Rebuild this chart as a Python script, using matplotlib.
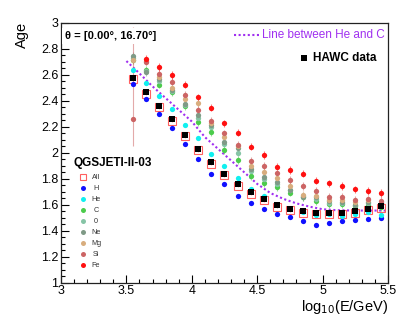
import numpy as np
import matplotlib
matplotlib.use("Agg")
import matplotlib.pyplot as plt
from matplotlib.colors import to_rgba

plt.rcParams['font.family'] = ['Liberation Sans', 'DejaVu Sans']

# ---- data ----
log_e = [3.55, 3.65, 3.75, 3.85, 3.95, 4.05, 4.15, 4.25, 4.35, 4.45,
         4.55, 4.65, 4.75, 4.85, 4.95, 5.05, 5.15, 5.25, 5.35, 5.45]

age_all = [2.565, 2.455, 2.350, 2.245, 2.128, 2.018, 1.915, 1.825, 1.747, 1.685,
           1.635, 1.585, 1.558, 1.540, 1.530, 1.530, 1.527, 1.540, 1.557, 1.578]
age_h = [2.526, 2.416, 2.300, 2.192, 2.065, 1.949, 1.836, 1.757, 1.669, 1.610,
         1.565, 1.526, 1.506, 1.478, 1.444, 1.457, 1.472, 1.482, 1.488, 1.495]
age_he = [2.640, 2.540, 2.434, 2.336, 2.213, 2.115, 1.990, 1.895, 1.808, 1.721,
          1.667, 1.600, 1.565, 1.545, 1.521, 1.530, 1.513, 1.526, 1.546, 1.524]
age_c = [2.710, 2.636, 2.523, 2.465, 2.357, 2.236, 2.157, 2.021, 1.944, 1.821,
         1.765, 1.734, 1.692, 1.660, 1.628, 1.605, 1.605, 1.590, 1.600, 1.580]
age_o = [2.730, 2.630, 2.550, 2.475, 2.370, 2.270, 2.200, 2.070, 2.000, 1.860,
         1.800, 1.760, 1.710, 1.665, 1.645, 1.610, 1.615, 1.600, 1.610, 1.600]
age_ne = [2.744, 2.620, 2.570, 2.482, 2.375, 2.290, 2.213, 2.085, 2.034, 1.875,
          1.815, 1.777, 1.713, 1.657, 1.657, 1.625, 1.623, 1.598, 1.620, 1.610]
age_mg = [2.713, 2.705, 2.585, 2.500, 2.413, 2.380, 2.230, 2.120, 2.050, 1.900,
          1.854, 1.803, 1.744, 1.675, 1.670, 1.640, 1.640, 1.620, 1.636, 1.615]
age_si = [2.259, 2.700, 2.605, 2.546, 2.444, 2.328, 2.246, 2.149, 2.060, 1.939,
          1.898, 1.841, 1.790, 1.744, 1.705, 1.660, 1.662, 1.636, 1.641, 1.630]
age_fe = [np.nan, 2.720, 2.660, 2.598, 2.523, 2.426, 2.346, 2.226, 2.154, 2.047,
          1.982, 1.892, 1.867, 1.839, 1.785, 1.765, 1.744, 1.718, 1.706, 1.690]
age_hawc = [2.577, 2.465, 2.362, 2.257, 2.138, 2.028, 1.926, 1.836, 1.757, 1.695,
            1.645, 1.595, 1.568, 1.550, 1.540, 1.540, 1.538, 1.550, 1.567, 1.588]

err_small = [0.012] * 20
err_mid = [0.028] * 20
si_err_lo = [0.21] + [0.028] * 19
si_err_hi = [0.71] + [0.028] * 19

line_x = [3.50, 3.60, 3.70, 3.80, 3.90, 4.00, 4.10, 4.20, 4.30, 4.40, 4.50,
          4.60, 4.70, 4.80, 4.90, 5.00, 5.10, 5.20, 5.30, 5.40, 5.50]
line_y = [2.705, 2.61, 2.51, 2.42, 2.33, 2.24, 2.12, 2.03, 1.94, 1.85, 1.76,
          1.69, 1.645, 1.61, 1.585, 1.565, 1.558, 1.556, 1.555, 1.555, 1.555]

series = [
    ("H", age_h, err_small, '#1010ff'),
    ("He", age_he, err_small, '#10f0f0'),
    ("C", age_c, err_mid, '#4ccc4c'),
    ("0", age_o, err_mid, '#86c4a6'),
    ("Ne", age_ne, err_mid, '#7f9a86'),
    ("Mg", age_mg, err_mid, '#d8ad7e'),
    ("Si", age_si, (si_err_lo, si_err_hi), '#cc6464'),
    ("Fe", age_fe, err_mid, '#ff1010'),
]

W, H = 409, 325
fig = plt.figure(figsize=(W / 100, H / 100), dpi=100)
L, R, T, B = 61, 388, 22.7, 282.7
ax = fig.add_axes([L / W, 1 - B / H, (R - L) / W, (B - T) / H])

purple = '#a030f0'

# dotted line
ax.plot(line_x, line_y, color=purple, lw=1.5, ls=(0, (1, 1.2)), zorder=2)

# All (open squares)
ax.errorbar(log_e, age_all, yerr=err_small, fmt='s', ms=5.2, mfc='none',
            mec='#ff6060', mew=0.8, ecolor=to_rgba('#ff6060', 0.5),
            elinewidth=0.8, zorder=3)

for name, vals, err, col in series:
    ax.errorbar(log_e, vals, yerr=err, fmt='o', ms=3.8, mfc=col, mec='none',
                mew=0, ecolor=to_rgba(col, 0.55), elinewidth=0.8, zorder=4)

# HAWC data
ax.errorbar(log_e, age_hawc, yerr=err_small, fmt='s', ms=4.3, mfc='black',
            mec='none', mew=0, ecolor='black', elinewidth=0.8, zorder=6)

ax.set_xlim(3, 5.5)
ax.set_ylim(1, 3)
ax.set_xticks([3, 3.5, 4, 4.5, 5, 5.5])
ax.set_xticklabels(['3', '3.5', '4', '4.5', '5', '5.5'])
ax.set_xticks(np.arange(3, 5.501, 0.1), minor=True)
ax.set_yticks(np.arange(1, 3.001, 0.2))
ax.set_yticklabels(['1', '1.2', '1.4', '1.6', '1.8', '2', '2.2', '2.4', '2.6', '2.8', '3'])
ax.set_yticks(np.arange(1, 3.001, 0.05), minor=True)
ax.tick_params(which='both', direction='in', top=False, right=False,
               labelsize=9, width=0.8)
ax.tick_params(which='major', length=6, pad=2)
ax.tick_params(which='minor', length=3)
for s in ax.spines.values():
    s.set_linewidth(0.9)
    s.set_color('#222222')


def axf(px, py):
    return ((px - L) / (R - L), (B - py) / (B - T))


# texts
x0, y0 = axf(65, 36)
ax.text(x0, y0, 'θ = [0.00°, 16.70°]', transform=ax.transAxes, fontsize=8,
        fontweight='bold', ha='left', va='center', zorder=10,
        bbox=dict(facecolor='white', edgecolor='none', pad=2.5))

xa, ya = axf(234, 35)
xb, _ = axf(261, 35)
ax.plot([xa, xb], [ya, ya], transform=ax.transAxes, color=purple, lw=1.5,
        ls=(0, (1, 1.2)), clip_on=False)
xt, _ = axf(262, 35)
ax.text(xt, ya, 'Line between He and C', transform=ax.transAxes, fontsize=8.5,
        color=purple, ha='left', va='center')

xs, ys = axf(304, 58)
ax.plot([xs], [ys], 's', transform=ax.transAxes, ms=3.8, color='black', mew=0)
xt, _ = axf(313, 58)
ax.text(xt, ys, 'HAWC data', transform=ax.transAxes, fontsize=8.5,
        fontweight='bold', ha='left', va='center')

xq, yq = axf(73, 163)
ax.text(xq, yq, 'QGSJETI-II-03', transform=ax.transAxes, fontsize=8.5,
        fontweight='bold', ha='left', va='center')

leg_names = ['All'] + [s[0] for s in series]
leg_cols = ['#ff6060'] + [s[3] for s in series]
for i, (nm, col) in enumerate(zip(leg_names, leg_cols)):
    py = 177.3 + 11 * i
    mx, my = axf(82.7, py)
    if i == 0:
        ax.plot([mx], [my], 's', transform=ax.transAxes, ms=4.2, mfc='none',
                mec=col, mew=0.8)
    else:
        ax.plot([mx], [my], 'o', transform=ax.transAxes, ms=3.6, color=col, mew=0)
    tx, _ = axf(96, py)
    ax.text(tx, my, nm, transform=ax.transAxes, fontsize=5.2, color='#333333',
            ha='center', va='center')

fig.text(22 / W, 1 - 22 / H, 'Age', rotation=90, fontsize=10.5, ha='center', va='top')
fig.text(388 / W, 1 - 311 / H, r'log$_{10}$(E/GeV)', fontsize=10.5, ha='right',
         va='baseline')

fig.savefig('out.png', dpi=100)
